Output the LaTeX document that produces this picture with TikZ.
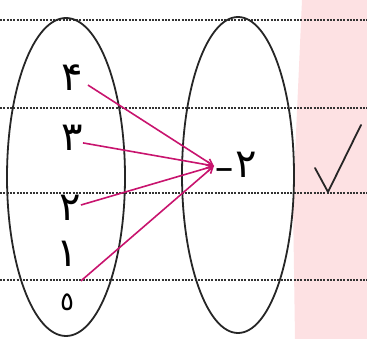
\documentclass[tikz,border=0pt]{standalone}
\usepackage{fontspec}
\newfontfamily\fafont[Script=Arabic]{DejaVu Sans}
\newfontfamily\dvfont{DejaVu Sans}
\usetikzlibrary{arrows.meta,shapes.geometric}
\definecolor{pinkbg}{HTML}{FDE1E3}
\definecolor{mag}{HTML}{C8146E}
\tikzset{
  setell/.style={draw=black!85, line width=1.8pt},
  digit/.style={font=\fafont\fontsize{40}{42}\selectfont, inner sep=0pt},
  mapline/.style={draw=mag, line width=1.6pt, -{Straight Barb[length=6pt,width=7pt]}},
  ruling/.style={draw=black!80, line width=1.3pt, dash pattern=on 2pt off 1.3pt},
}
\begin{document}
\begin{tikzpicture}[x=1pt,y=-1pt]
\useasboundingbox (0,0) rectangle (367,339);
\fill[pinkbg] (302,0) -- (367,0) -- (367,339) -- (295,339) -- (293,200) -- cycle;
\foreach \yy in {20,108,193,280} \draw[ruling] (0,\yy) -- (367,\yy);
\node[setell, ellipse, minimum width=118pt, minimum height=318pt, inner sep=0pt] (A) at (66,177) {};
\node[setell, ellipse, minimum width=112pt, minimum height=316pt, inner sep=0pt] (B) at (238,175) {};
\node[digit] (n4) at (72,78) {۴};
\node[digit] (n3) at (72,138) {۳};
\node[digit] (n2) at (70,208) {۲};
\node[digit] (n1) at (67,254) {۱};
\node[font=\fafont\fontsize{26}{28}\selectfont, inner sep=0pt] (n0) at (67,302) {٥};
\node[digit, anchor=west] (m2) at (214,165) {{\dvfont\bfseries\fontsize{24}{26}\selectfont −}\kern1pt۲};
\coordinate (t) at (214,166);
\draw[mapline] (n4.south east) ++(5,-6) -- (t);
\draw[mapline] (n3.south east) ++(0,-8) -- (t);
\draw[mapline] (n2.east) ++(0,-3) -- (t);
\draw[mapline] (n1.south east) ++(3,14) -- (t);
\draw[line width=1.8pt, black!85, line cap=round, line join=round] (315,168) -- (328,192) -- (361,125);
\end{tikzpicture}
\end{document}
